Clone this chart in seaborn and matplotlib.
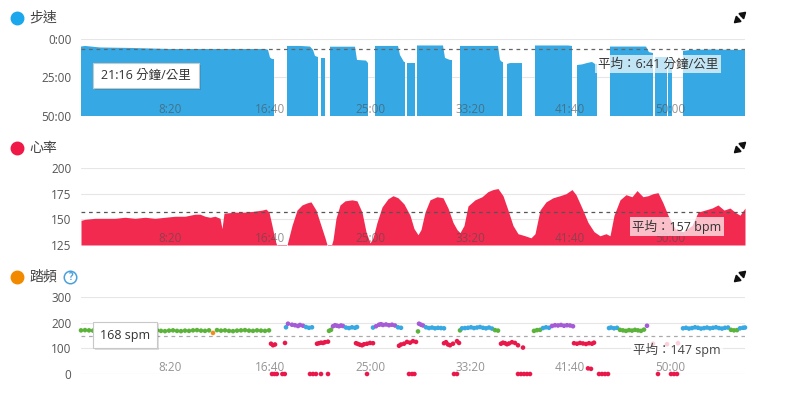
import numpy as np
import pandas as pd
import seaborn as sns
import matplotlib.pyplot as plt
from matplotlib.lines import Line2D
from matplotlib.patches import FancyArrowPatch, Rectangle
from matplotlib.ticker import FixedLocator, FuncFormatter

nan = np.nan

# pace, minutes per km (nan = no data / walking gap)
pace_t = [55, 75, 150, 300, 500, 650, 850, 975, 990, 1000, 1010, 1020, 1050,
          1085, 1150, 1200, 1215, 1225, 1240, 1248,
          1255, 1275, 1288,
          1300, 1425, 1435, 1480, 1490, 1508,
          1525, 1640, 1650, 1670, 1675, 1680,
          1685, 1725, 1730,
          1735, 1865, 1875, 1900, 1910, 1930,
          1950, 2140, 2150, 2160, 2165, 2175,
          2185, 2200, 2260, 2290,
          2325, 2490, 2510, 2522,
          2535, 2560, 2585, 2610, 2625, 2635, 2668,
          2700, 2880, 2895, 2915, 2920,
          2925, 2985, 2988,
          2990, 3010, 3035,
          3065, 3100, 3200, 3375]
pace_v = [4.9, 4.5, 5.5, 5.8, 6.5, 6.5, 6.5, 6.5, 7.0, 12.0, 13.0, 13.0, nan,
          4.5, 4.5, 4.9, 7.0, 11.0, 11.7, nan,
          12.3, 12.3, nan,
          5.0, 5.0, 13.6, 14.0, 15.6, nan,
          4.5, 4.5, 10.4, 14.9, 14.9, nan,
          15.6, 15.6, nan,
          4.2, 4.2, 12.3, 13.6, 13.6, nan,
          4.5, 4.5, 13.6, 14.9, 14.9, nan,
          16.2, 15.6, 15.6, nan,
          4.2, 4.2, 4.5, nan,
          16.9, 16.5, 15.6, 14.9, 16.2, 16.2, nan,
          4.9, 4.9, 8.5, 9.1, nan,
          12.0, 12.0, nan,
          13.0, 13.0, nan,
          7.8, 7.1, 6.8, 7.1]
pace_avg = 6 + 41 / 60

# heart rate, bpm
hr_t = [55, 75, 125, 175, 225, 275, 325, 375, 425, 475, 525, 575, 625, 650, 675,
        700, 725, 750, 760, 770, 825, 875, 925, 960, 980, 995, 1010, 1025, 1035,
        1060, 1085, 1110, 1135, 1160, 1185, 1205, 1230, 1255, 1275, 1290, 1300,
        1315, 1330, 1350, 1375, 1410, 1435, 1460, 1480, 1500, 1515, 1535, 1560,
        1590, 1615, 1640, 1670, 1700, 1720, 1740, 1755, 1775, 1800, 1835, 1865,
        1890, 1915, 1935, 1950, 1970, 1990, 2025, 2060, 2090, 2115, 2140, 2165,
        2190, 2215, 2240, 2275, 2305, 2325, 2350, 2380, 2415, 2450, 2480, 2510,
        2530, 2560, 2590, 2620, 2650, 2680, 2700, 2720, 2750, 2780, 2810, 2835,
        2865, 2890, 2915, 2940, 2965, 2990, 3025, 3065, 3110, 3140, 3175, 3210,
        3240, 3270, 3300, 3325, 3350, 3375]
hr_v = [149, 150, 151, 151, 151, 152, 151, 152, 151, 152, 153, 153, 155, 155, 153,
        152, 153, 151, 141, 156, 157, 157, 158, 159, 160, 157, 144, 130, 124,
        120, 125, 144, 159, 164, 166, 167, 159, 144, 132, 122, 120,
        130, 151, 164, 168, 169, 168, 157, 138, 127, 132, 147, 162,
        170, 173, 171, 165, 154, 141, 135, 140, 157, 169, 172, 171,
        161, 147, 140, 137, 144, 163, 169, 172, 177, 179, 180, 173,
        159, 144, 136, 134, 132, 136, 159, 167, 171, 173, 175, 179,
        174, 161, 147, 138, 134, 136, 134, 154, 169, 174, 172, 178,
        172, 173, 175, 176, 166, 154, 141, 138, 144, 157, 159, 161,
        164, 159, 161, 157, 154, 161]
hr_avg = 157

# cadence, steps per minute
cad_t = ([55, 75, 95, 115, 135, 155, 175, 195, 215, 235, 255, 275, 295, 315, 335, 355,
          375, 395, 415, 435, 455, 475, 495, 515, 535, 555, 575, 595, 615, 635, 655,
          675, 695, 715, 735, 755, 775, 795, 815, 835, 855, 875, 895, 915, 935, 955,
          975, 995]
         + [1005, 1015, 1025, 1075, 1010, 1022, 1034, 1062, 1074]
         + [1080, 1090, 1110, 1125, 1140, 1150, 1165, 1180, 1195, 1210]
         + [1235, 1245, 1255, 1265, 1275, 1290, 1200, 1215, 1230, 1255, 1290]
         + [1295, 1305, 1315, 1325, 1335, 1345, 1355, 1365, 1380, 1395, 1410, 1425, 1435]
         + [1430, 1440, 1450, 1460, 1470, 1485, 1500, 1515, 1485]
         + [1515, 1530, 1545, 1555, 1565, 1580, 1595, 1610, 1625, 1640, 1655]
         + [1645, 1655, 1670, 1685, 1700, 1715, 1730, 1695, 1710, 1722]
         + [1740, 1745, 1755, 1765, 1780, 1795, 1810, 1825, 1840, 1855, 1870]
         + [1870, 1880, 1890, 1900, 1915, 1935, 1945, 1920, 1935]
         + [1950, 1960, 1975, 1990, 2005, 2020, 2035, 2050, 2065, 2080, 2095, 2110, 2125, 2140]
         + [2155, 2165, 2175, 2185, 2195, 2210, 2225, 2240, 2265, 2240, 2255, 2270, 2285, 2300]
         + [2320, 2335, 2350, 2365, 2380, 2395, 2410, 2425, 2440, 2455, 2470, 2485, 2500, 2515]
         + [2520, 2535, 2550, 2565, 2580, 2595, 2610, 2620, 2590, 2605, 2645, 2660, 2675, 2690]
         + [2695, 2705, 2720, 2735, 2750, 2765, 2780, 2795, 2810, 2825, 2840, 2855, 2870, 2885]
         + [2940, 3005, 3020, 3035, 2915, 2985, 3040]
         + [3065, 3080, 3095, 3110, 3125, 3140, 3155, 3170, 3185, 3200, 3215, 3230, 3245,
            3260, 3275, 3290, 3305, 3320, 3335, 3350, 3365, 3375])
cad_v = ([170, 171, 170, 169, 171, 170, 168, 170, 171, 169,
          170, 172, 170, 169, 168, 170, 171, 170, 169, 170,
          168, 167, 169, 170, 168, 167, 169, 168, 170, 171,
          169, 168, 170, 160, 171, 169, 170, 168, 167, 169,
          170, 171, 169, 168, 170, 169, 168, 170]
         + [118, 112, 115, 121, 0, 0, 0, 0, 0]
         + [182, 196, 192, 190, 187, 191, 188, 183, 180, 182]
         + [118, 120, 122, 121, 124, 126, 0, 0, 0, 0, 0]
         + [168, 172, 186, 190, 188, 186, 189, 187, 181, 179, 182, 180, 183]
         + [120, 117, 114, 112, 116, 118, 121, 120, 0]
         + [181, 186, 192, 194, 191, 193, 190, 192, 189, 182, 180]
         + [110, 115, 118, 125, 122, 128, 125, 0, 0, 0]
         + [166, 196, 192, 189, 182, 179, 181, 178, 180, 179, 178]
         + [120, 124, 115, 112, 118, 128, 121, 0, 0]
         + [170, 178, 179, 180, 182, 179, 181, 183, 180, 178, 181, 177, 171, 169]
         + [118, 122, 120, 116, 119, 124, 121, 112, 103, 0, 0, 0, 0, 0]
         + [168, 171, 172, 179, 182, 180, 187, 190, 189, 191, 188, 190, 189, 186]
         + [120, 118, 121, 119, 117, 120, 118, 122, 22, 20, 0, 0, 0, 0]
         + [179, 181, 178, 180, 172, 170, 168, 171, 169, 172, 170, 168, 173, 188]
         + [0, 0, 0, 0, 118, 116, 120]
         + [178, 180, 177, 179, 182, 180, 177, 179, 181, 178, 180, 182, 179,
            177, 180, 181, 172, 170, 171, 178, 180, 181])
cad_avg = 147

zone_names = ['red', 'orange', 'green', 'blue', 'purple']
zone_bins = [-1, 153, 164, 174, 184, 400]
zone_colors = {'red': '#e8194a', 'orange': '#f08c1a', 'green': '#5cb33b',
               'blue': '#38a8e2', 'purple': '#a55ad6'}

time_ticks = [500, 1000, 1500, 2000, 2500, 3000]

sns.set_style('white')
plt.rcParams['font.family'] = ['Open Sans', 'Noto Sans CJK TC', 'DejaVu Sans']

W, H = 808, 398
fig = plt.figure(figsize=(W / 100, H / 100), dpi=100)


def fx(x):
    return x / W


def fy(y):
    return 1 - y / H


def panel(top):
    ax = fig.add_axes([fx(81), fy(top + 77), fx(664), 77 / H])
    ax.set_axisbelow(False)
    sns.despine(ax=ax, left=True, bottom=True)
    ax.set_xlim(55, 3375)
    ax.xaxis.set_major_locator(FixedLocator(time_ticks))
    ax.xaxis.set_major_formatter(FuncFormatter(lambda v, p: f"{int(v) // 60}:{int(v) % 60:02d}"))
    ax.tick_params(axis='x', length=0, pad=-9.5, labelsize=8.5, labelcolor=(0.3, 0.3, 0.3, 0.6))
    ax.tick_params(axis='y', length=0, pad=7, labelsize=8.5, labelcolor='#555555')
    ax.set_xlabel('')
    ax.set_ylabel('')
    return ax


def gridlines(ax, vals, bottom_color='#e3e3e3'):
    for i, v in enumerate(vals):
        ax.axhline(v, color=bottom_color if i == 0 else '#e6e6e6', lw=0.8, zorder=0.5)


# ---- pace
ax1 = panel(39)
ax1.set_ylim(50, 0)
ax1.set_yticks([0, 25, 50])
ax1.yaxis.set_major_formatter(FuncFormatter(lambda v, p: f"{int(v)}:00"))
gridlines(ax1, [50, 25, 0])
ax1.fill_between(pace_t, pace_v, 50, color='#36a9e4', lw=0, zorder=1)
ax1.axhline(pace_avg, color='#666666', lw=0.9, ls=(0, (3, 3)), zorder=1.5)

# ---- heart rate
ax2 = panel(168)
ax2.set_ylim(125, 200)
ax2.set_yticks([125, 150, 175, 200])
gridlines(ax2, [125, 150, 175, 200])
ax2.fill_between(hr_t, hr_v, 125, color='#f22a50', lw=0, zorder=1)
ax2.axhline(hr_avg, color='#555555', lw=0.9, ls=(0, (3, 3)), zorder=1.5)

# ---- cadence
ax3 = panel(297)
ax3.set_ylim(0, 300)
ax3.set_yticks([0, 100, 200, 300])
gridlines(ax3, [0, 100, 200, 300], bottom_color='#cccccc')
ax3.axhline(cad_avg, color='#aaaaaa', lw=0.9, ls=(0, (3, 3)), zorder=1.5)
cad = pd.DataFrame({'t': cad_t, 'spm': cad_v})
cad['zone'] = pd.cut(cad['spm'], bins=zone_bins, labels=zone_names)
sns.scatterplot(data=cad, x='t', y='spm', hue='zone', hue_order=zone_names,
                palette=zone_colors, s=11, linewidth=0, legend=False,
                ax=ax3, clip_on=False, zorder=2)
ax3.set_xlabel('')
ax3.set_ylabel('')

# ---- titles and icons
titles = [('步速', '#1aa7ec', 18), ('心率', '#ef1846', 148), ('踏頻', '#f28a00', 277)]
for name, col, y in titles:
    fig.add_artist(Line2D([fx(17)], [fy(y)], marker='o', ms=9, color=col, mec=col,
                          transform=fig.transFigure))
    fig.text(fx(29), fy(y), name, fontsize=10, color='#444444', va='center', ha='left')
    # expand icon: two arrows pointing to opposite corners
    for sx, sy in [(1, -1), (-1, 1)]:
        fig.add_artist(FancyArrowPatch((fx(740 + sx * 1.5), fy(y - 0.5 + sy * 1.5)),
                                       (fx(740 + sx * 6.5), fy(y - 0.5 + sy * 6)),
                                       transform=fig.transFigure,
                                       arrowstyle='-|>,head_length=0.35,head_width=0.22',
                                       mutation_scale=10, lw=1.4, color='#111111',
                                       shrinkA=0, shrinkB=0))

fig.add_artist(Line2D([fx(70)], [fy(277)], marker='o', ms=9, mfc='white', mec='#4aa0dc',
                      mew=1.1, transform=fig.transFigure))
fig.text(fx(70), fy(277.5), '?', fontsize=7, color='#4aa0dc', ha='center', va='center',
         fontweight='bold')

# ---- average labels
fig.text(fx(658), fy(64), '平均：6:41 分鐘/公里', fontsize=9, color='#333333',
         ha='center', va='center',
         bbox=dict(boxstyle='square,pad=0.2', fc='white', ec='none', alpha=0.7))
fig.text(fx(677), fy(226.5), '平均：157 bpm', fontsize=9, color='#333333',
         ha='center', va='center',
         bbox=dict(boxstyle='square,pad=0.2', fc='white', ec='none', alpha=0.7))
fig.text(fx(677), fy(350), '平均：147 spm', fontsize=9, color='#444444',
         ha='center', va='center',
         bbox=dict(boxstyle='square,pad=0.15', fc='white', ec='none', alpha=0.8))

# ---- tooltips
for x0, y0, w, h, label in [(93, 63, 106, 25, '21:16 分鐘/公里'), (93, 322, 64, 26, '168 spm')]:
    fig.add_artist(Rectangle((fx(x0 + 2), fy(y0 + h + 2)), w / W, h / H,
                             transform=fig.transFigure, fc='#000000', alpha=0.12, lw=0))
    fig.add_artist(Rectangle((fx(x0), fy(y0 + h)), w / W, h / H,
                             transform=fig.transFigure, fc='white', ec='#c8c8c8', lw=0.8))
    fig.text(fx(x0 + w / 2), fy(y0 + h / 2), label, fontsize=9, color='#333333',
             ha='center', va='center')

fig.savefig('out.png', dpi=100, facecolor='white')
